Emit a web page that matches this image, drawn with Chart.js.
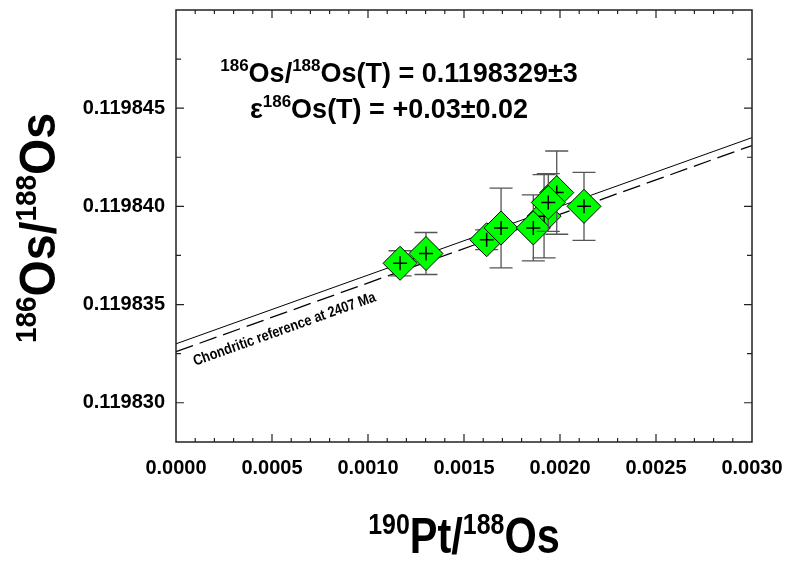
<!DOCTYPE html>
<html>
<head>
<meta charset="utf-8">
<script src="https://cdn.jsdelivr.net/npm/chart.js@4.4.0/dist/chart.umd.min.js"></script>
<style>
html, body { margin: 0; padding: 0; background: #fff; }
#wrap { width: 785px; height: 563px; }
</style>
</head>
<body>
<div id="wrap"><canvas id="chart"></canvas></div>
<script>
// samples, listed in the order they are drawn (later ones sit on top)
var ptX   = [0.001167, 0.001302, 0.001618, 0.001693, 0.001917, 0.001983, 0.001861, 0.001939, 0.002125];
var ptY   = [0.1198371, 0.1198376, 0.1198383, 0.1198389, 0.1198395, 0.1198407, 0.1198389, 0.1198402, 0.1198400];
var ptErr = [0.00000064, 0.00000107, 0.0000005, 0.00000203, 0.00000212, 0.00000212, 0.00000168, 0.00000147, 0.00000173];

// regression line and chondritic reference
var lineX = [0, 0.003];
var regressionY = [0.1198330, 0.1198435];
var chondriticY = [0.1198326, 0.1198431];

var xMajorTicks = [0, 0.0005, 0.0010, 0.0015, 0.0020, 0.0025, 0.0030];
var yMajorTicks = [0.119830, 0.119835, 0.119840, 0.119845];
var xMinorStep = 0.0001;
var yMinorStep = 0.0000025;

var FAM = "'Liberation Sans', Arial, sans-serif";

function isMajor(v, list) {
    return list.some(function (m) { return Math.abs(v - m) < 1e-12; });
}

function tickList(min, max, step) {
    var out = [];
    var n = Math.round((max - min) / step);
    for (var i = 0; i <= n; i++) out.push(min + i * step);
    return out;
}

var xTickVals = tickList(0, 0.003, xMinorStep);
var yTickVals = tickList(0.119830, 0.1198475, yMinorStep);

// draws text with superscript parts, centred on cx, squeezed by sx
function drawRich(ctx, parts, cx, baseY, main, sup, sx) {
    ctx.save();
    ctx.translate(cx, baseY);
    ctx.scale(sx, 1);
    var w = 0;
    parts.forEach(function (p) {
        ctx.font = 'bold ' + (p.s ? sup : main) + 'px ' + FAM;
        w += ctx.measureText(p.t).width;
    });
    var x = -w / 2;
    ctx.textAlign = 'left';
    ctx.textBaseline = 'alphabetic';
    ctx.fillStyle = '#000';
    parts.forEach(function (p) {
        ctx.font = 'bold ' + (p.s ? sup : main) + 'px ' + FAM;
        ctx.fillText(p.t, x, p.s ? -main * 0.39 : 0);
        x += ctx.measureText(p.t).width;
    });
    ctx.restore();
}

var errorBars = {
    id: 'errorBars',
    beforeDatasetDraw: function (chart, args) {
        var ds = chart.data.datasets[args.index];
        if (ds.errIndex === undefined) return;
        var i = ds.errIndex;
        var xs = chart.scales.x, ys = chart.scales.y;
        var px = xs.getPixelForValue(ptX[i]);
        var top = ys.getPixelForValue(ptY[i] + ptErr[i]);
        var bot = ys.getPixelForValue(ptY[i] - ptErr[i]);
        var ctx = chart.ctx;
        ctx.save();
        ctx.strokeStyle = '#555';
        ctx.lineWidth = 1.3;
        ctx.beginPath();
        ctx.moveTo(px, top); ctx.lineTo(px, bot);
        ctx.moveTo(px - 11.5, top); ctx.lineTo(px + 11.5, top);
        ctx.moveTo(px - 11.5, bot); ctx.lineTo(px + 11.5, bot);
        ctx.stroke();
        ctx.restore();
    }
};

var frame = {
    id: 'frame',
    afterDraw: function (chart) {
        var ctx = chart.ctx, a = chart.chartArea;
        var xs = chart.scales.x, ys = chart.scales.y;
        ctx.save();
        ctx.strokeStyle = '#222';
        ctx.lineWidth = 1.5;
        ctx.strokeRect(a.left, a.top, a.right - a.left, a.bottom - a.top);
        ctx.lineWidth = 1.2;
        ctx.beginPath();
        xTickVals.forEach(function (v) {
            var p = xs.getPixelForValue(v);
            var len = isMajor(v, xMajorTicks) ? 8 : 4;
            if (p <= a.left + 1 || p >= a.right - 1) return;
            ctx.moveTo(p, a.bottom); ctx.lineTo(p, a.bottom - len);
            ctx.moveTo(p, a.top); ctx.lineTo(p, a.top + len);
        });
        yTickVals.forEach(function (v) {
            var p = ys.getPixelForValue(v);
            var len = isMajor(v, yMajorTicks) ? 8 : 5;
            ctx.moveTo(a.left, p); ctx.lineTo(a.left + len, p);
            ctx.moveTo(a.right, p); ctx.lineTo(a.right - len, p);
        });
        ctx.stroke();
        ctx.restore();

        // equation text
        drawRich(ctx, [{t: '186', s: 1}, {t: 'Os/'}, {t: '188', s: 1}, {t: 'Os(T) = 0.1198329\u00b13'}],
            399, 82, 27, 17, 1);
        drawRich(ctx, [{t: '\u03b5'}, {t: '186', s: 1}, {t: 'Os(T) = +0.03\u00b10.02'}],
            389, 118, 27, 17, 1);

        // axis titles
        drawRich(ctx, [{t: '190', s: 1}, {t: 'Pt/'}, {t: '188', s: 1}, {t: 'Os'}],
            464, 553, 50, 30, 0.83);
        ctx.save();
        ctx.translate(55, 228);
        ctx.rotate(-Math.PI / 2);
        drawRich(ctx, [{t: '186', s: 1}, {t: 'Os/'}, {t: '188', s: 1}, {t: 'Os'}],
            0, 0, 50, 30, 0.93);
        ctx.restore();

        // label along the chondritic line
        var x0 = xs.getPixelForValue(lineX[0]), x1 = xs.getPixelForValue(lineX[1]);
        var y0 = ys.getPixelForValue(chondriticY[0]), y1 = ys.getPixelForValue(chondriticY[1]);
        var ang = Math.atan2(y1 - y0, x1 - x0);
        var lx = xs.getPixelForValue(0.0001);
        var ly = y0 + (y1 - y0) * (lx - x0) / (x1 - x0);
        ctx.save();
        ctx.translate(lx, ly + 21);
        ctx.rotate(ang);
        ctx.scale(0.85, 1);
        ctx.font = 'bold 15px ' + FAM;
        ctx.fillStyle = '#000';
        ctx.textAlign = 'left';
        ctx.textBaseline = 'alphabetic';
        ctx.fillText('Chondritic reference at 2407 Ma', 0, 0);
        ctx.restore();
    }
};

var datasets = [
    {
        data: lineX.map(function (x, i) { return {x: x, y: regressionY[i]}; }),
        showLine: true, borderColor: '#000', borderWidth: 1, pointRadius: 0, order: 100
    },
    {
        data: lineX.map(function (x, i) { return {x: x, y: chondriticY[i]}; }),
        showLine: true, borderColor: '#000', borderWidth: 1.3, borderDash: [18, 7], pointRadius: 0, order: 100
    }
];

ptX.forEach(function (x, i) {
    datasets.push({
        data: [{x: x, y: ptY[i]}],
        pointStyle: 'rectRot', pointRadius: 17,
        backgroundColor: '#00ff00', borderColor: '#000', borderWidth: 1,
        order: 50 - 2 * i, errIndex: i
    });
    datasets.push({
        data: [{x: x, y: ptY[i]}],
        pointStyle: 'cross', pointRadius: 7,
        borderColor: '#000', borderWidth: 1.5,
        order: 49 - 2 * i
    });
});

var ctx = document.getElementById('chart').getContext('2d');
var chart = new Chart(ctx, {
    type: 'scatter',
    data: { datasets: datasets },
    options: {
        responsive: true,
        maintainAspectRatio: false,
        animation: false,
        events: [],
        layout: { autoPadding: false, padding: { top: 10, right: 33, left: 0, bottom: 0 } },
        plugins: { legend: { display: false }, tooltip: { enabled: false } },
        scales: {
            x: {
                type: 'linear', min: 0, max: 0.003,
                afterBuildTicks: function (s) { s.ticks = xTickVals.map(function (v) { return {value: v}; }); },
                afterFit: function (s) { s.height = 121; s.paddingLeft = 0; s.paddingRight = 0; },
                grid: { display: false, drawTicks: false },
                border: { display: false },
                ticks: {
                    autoSkip: false, maxRotation: 0, padding: 14, color: '#000',
                    font: { family: FAM, size: 20, weight: 'bold' },
                    callback: function (v) { return isMajor(v, xMajorTicks) ? v.toFixed(4) : ''; }
                }
            },
            y: {
                type: 'linear', min: 0.119828, max: 0.119850,
                afterBuildTicks: function (s) { s.ticks = yTickVals.map(function (v) { return {value: v}; }); },
                afterFit: function (s) { s.width = 176; s.paddingTop = 0; s.paddingBottom = 0; },
                grid: { display: false, drawTicks: false },
                border: { display: false },
                ticks: {
                    autoSkip: false, padding: 11, color: '#000',
                    font: { family: FAM, size: 20, weight: 'bold' },
                    callback: function (v) { return isMajor(v, yMajorTicks) ? v.toFixed(6) : ''; }
                }
            }
        }
    },
    plugins: [errorBars, frame]
});
</script>
</body>
</html>
